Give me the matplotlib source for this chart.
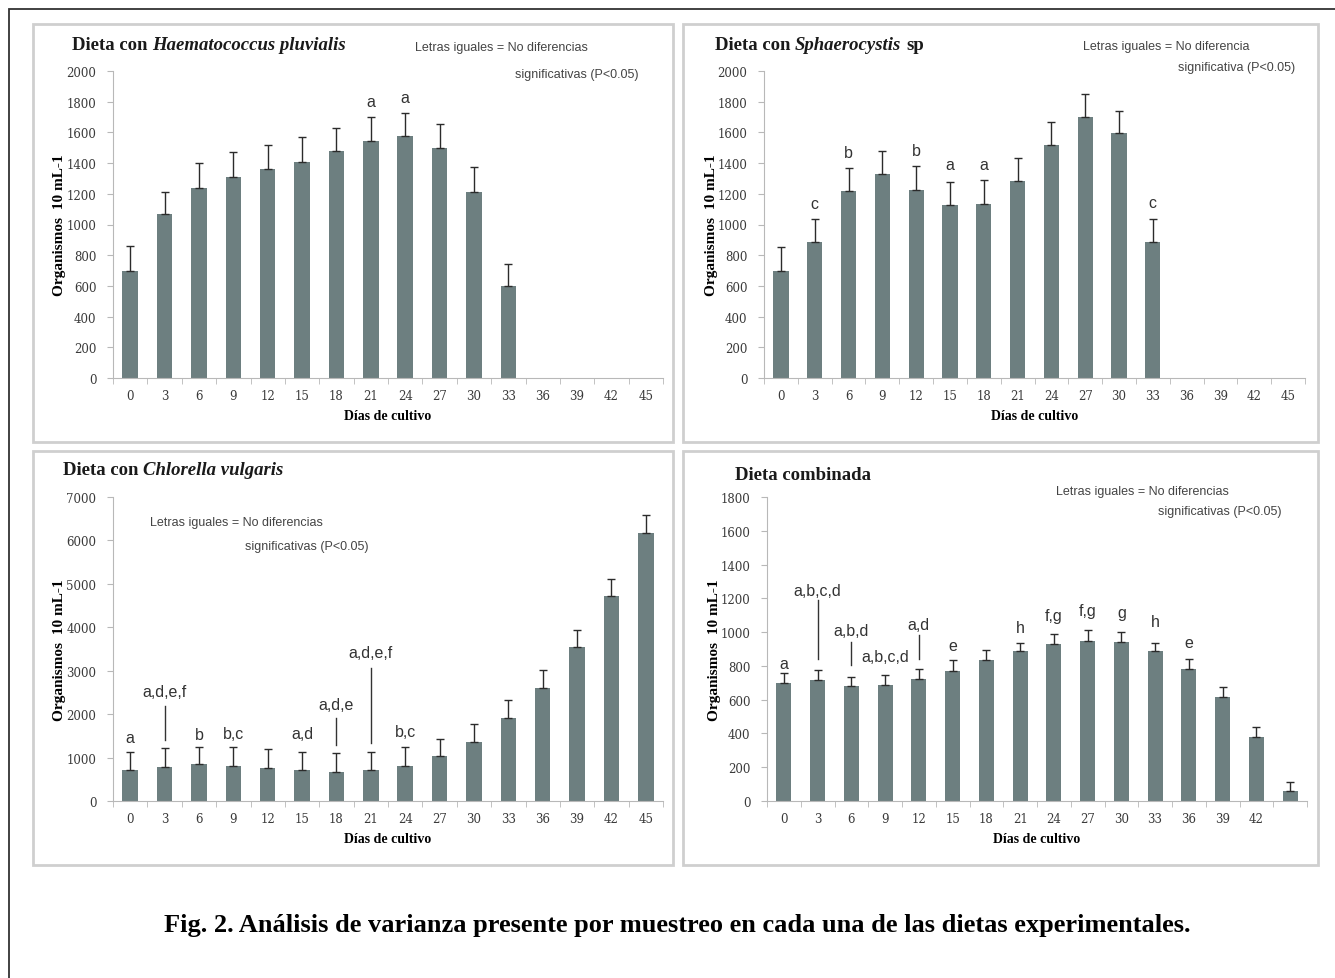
import numpy as np
import matplotlib.pyplot as plt
from matplotlib.patches import Rectangle
from matplotlib.text import Annotation

W, H = 1335, 979

dias = [0, 3, 6, 9, 12, 15, 18, 21, 24, 27, 30, 33, 36, 39, 42, 45]
dias_comb = ['0', '3', '6', '9', '12', '15', '18', '21', '24', '27', '30', '33', '36', '39', '42', '']

# medias por muestreo y limite superior de la barra de error
haema = [700, 1070, 1240, 1310, 1360, 1405, 1480, 1545, 1578, 1497, 1213, 600, 0, 0, 0, 0]
haema_sup = [857, 1213, 1399, 1475, 1515, 1567, 1628, 1700, 1727, 1655, 1373, 743, 0, 0, 0, 0]

sphae = [700, 883, 1217, 1327, 1228, 1128, 1134, 1285, 1519, 1703, 1593, 883, 0, 0, 0, 0]
sphae_sup = [852, 1036, 1366, 1480, 1381, 1277, 1287, 1430, 1670, 1851, 1742, 1036, 0, 0, 0, 0]

chlor = [715, 792, 846, 815, 769, 715, 677, 715, 815, 1038, 1369, 1908, 2600, 3538, 4715, 6162]
chlor_sup = [1123, 1215, 1254, 1238, 1192, 1123, 1100, 1123, 1238, 1431, 1769, 2315, 3023, 3946, 5123, 6577]

comb = [698, 714, 679, 688, 724, 770, 833, 891, 931, 948, 942, 891, 784, 617, 377, 60]
comb_sup = [760, 774, 734, 748, 784, 833, 893, 938, 986, 1010, 1000, 938, 843, 677, 440, 115]

# letras: (posicion, texto, altura del texto)
letras_haema = [(7, 'a', 1800), (8, 'a', 1825)]
letras_sphae = [(1, 'c', 1137), (2, 'b', 1469), (4, 'b', 1484), (5, 'a', 1388),
                (6, 'a', 1394), (11, 'c', 1141)]
letras_chlor = [(0, 'a', 1460), (1, 'a,d,e,f', 2520), (2, 'b', 1540), (3, 'b,c', 1560),
                (5, 'a,d', 1560), (6, 'a,d,e', 2215), (7, 'a,d,e,f', 3410), (8, 'b,c', 1600)]
lineas_chlor = [(1, 1410, 2180), (6, 1280, 1920), (7, 1330, 3060)]
letras_comb = [(0, 'a', 813), (1, 'a,b,c,d', 1244), (2, 'a,b,d', 1012), (3, 'a,b,c,d', 857),
               (4, 'a,d', 1048), (5, 'e', 922), (7, 'h', 1028), (8, 'f,g', 1101),
               (9, 'f,g', 1125), (10, 'g', 1117), (11, 'h', 1065), (12, 'e', 936)]
lineas_comb = [(1, 840, 1190), (2, 803, 942), (4, 839, 982)]

SERIF = 'Liberation Serif'
TICKS = 'DejaVu Serif'
SANS = 'Liberation Sans'
BARRA = '#6d7f80'


def caja(x0, y0, x1, y1):
    return [x0 / W, 1 - y1 / H, (x1 - x0) / W, (y1 - y0) / H]


def panel(fig, pos, medias, sup, etiquetas, ymax, paso, letras, lineas):
    ax = fig.add_axes(caja(*pos))
    x = np.arange(len(medias))
    med = np.array(medias, dtype=float)
    err = np.array(sup, dtype=float) - med
    ax.bar(x, med, width=0.45, color=BARRA, zorder=2)
    hay = med > 0
    ax.errorbar(x[hay], med[hay], yerr=[np.zeros(hay.sum()), err[hay]], fmt='none',
                ecolor='#2b2b2b', elinewidth=1, capsize=3, capthick=1, zorder=3)
    ax.set_xlim(-0.5, len(medias) - 0.5)
    ax.set_ylim(0, ymax)
    ax.set_yticks(np.arange(0, ymax + 1, paso))
    ax.set_xticks(x)
    ax.set_xticklabels(etiquetas)
    ax.set_xticks(np.arange(-0.5, len(medias)), minor=True)
    for s in ['top', 'right']:
        ax.spines[s].set_visible(False)
    for s in ['left', 'bottom']:
        ax.spines[s].set_color('#b8b8b8')
    ax.tick_params(axis='x', which='major', length=0, pad=8, labelsize=8.5, labelcolor='#3a3a3a')
    ax.tick_params(axis='x', which='minor', length=4, color='#b8b8b8', direction='out')
    ax.tick_params(axis='y', length=4, color='#b8b8b8', pad=8, labelsize=8.5, labelcolor='#3a3a3a')
    for lab in ax.get_xticklabels() + ax.get_yticklabels():
        lab.set_fontfamily(TICKS)
    ax.set_xlabel('Días de cultivo', fontfamily=SERIF, fontweight='bold', fontsize=10, labelpad=5)
    ax.set_ylabel('Organismos  10 mL-1', fontfamily=SERIF, fontweight='bold', fontsize=11)
    ax.yaxis.set_label_coords(-0.085, 0.5)
    for i, t, y in letras:
        ax.text(i, y, t, ha='center', va='center', fontfamily=SANS, fontsize=11.5, color='#333333')
    for i, y0, y1 in lineas:
        ax.plot([i, i], [y0, y1], color='#333333', lw=1, zorder=3)
    return ax


def titulo(fig, x, y, texto, especie=None, resto=None):
    estilo = dict(fontfamily=SERIF, fontweight='bold', fontsize=13.5, color='#1a1a1a')
    t = fig.text(x / W, 1 - y / H, texto, va='baseline', ha='left', **estilo)
    if especie:
        t2 = Annotation(especie, xy=(1, 0), xycoords=t, xytext=(3, 0), textcoords='offset points',
                        va='bottom', ha='left', fontstyle='italic', **estilo)
        fig.add_artist(t2)
        if resto:
            fig.add_artist(Annotation(resto, xy=(1, 0), xycoords=t2, xytext=(4, 0),
                                      textcoords='offset points', va='bottom', ha='left', **estilo))


def leyenda(fig, x1, y1, x2, y2, l1, l2):
    fig.text(x1 / W, 1 - y1 / H, l1, fontfamily=SANS, fontsize=9, color='#444444', va='center')
    fig.text(x2 / W, 1 - y2 / H, l2, fontfamily=SANS, fontsize=9, color='#444444', va='center')


fig = plt.figure(figsize=(W / 100, H / 100), dpi=100)

# marco exterior y recuadros de cada grafica
fig.patches.append(Rectangle((9 / W, -0.02), 1.05, 1 - 10 / H + 0.02, transform=fig.transFigure,
                             fill=False, edgecolor='#333333', lw=1.3))
for x0, y0, x1, y1 in [(33, 25, 673, 443), (683, 25, 1318, 443),
                       (33, 452, 673, 866), (683, 452, 1318, 866)]:
    fig.patches.append(Rectangle((x0 / W, 1 - y1 / H), (x1 - x0) / W, (y1 - y0) / H,
                                 transform=fig.transFigure, fill=False,
                                 edgecolor='#cfcfcf', lw=2))

etiq = [str(d) for d in dias]
panel(fig, (113, 72, 663, 379), haema, haema_sup, etiq, 2000, 200, letras_haema, [])
panel(fig, (764, 72, 1305, 379), sphae, sphae_sup, etiq, 2000, 200, letras_sphae, [])
panel(fig, (113, 498, 663, 802), chlor, chlor_sup, etiq, 7000, 1000, letras_chlor, lineas_chlor)
panel(fig, (767, 498, 1307, 802), comb, comb_sup, dias_comb, 1800, 200, letras_comb, lineas_comb)

titulo(fig, 72, 50, 'Dieta con', 'Haematococcus pluvialis')
titulo(fig, 715, 50, 'Dieta con', 'Sphaerocystis', 'sp')
titulo(fig, 63, 475, 'Dieta con', 'Chlorella vulgaris')
titulo(fig, 735, 480, 'Dieta combinada')

leyenda(fig, 415, 48, 515, 75, 'Letras iguales = No diferencias', 'significativas (P<0.05)')
leyenda(fig, 1083, 47, 1178, 68, 'Letras iguales = No diferencia', 'significativa (P<0.05)')
leyenda(fig, 150, 523, 245, 547, 'Letras iguales = No diferencias', 'significativas (P<0.05)')
leyenda(fig, 1056, 492, 1158, 512, 'Letras iguales = No diferencias', 'significativas (P<0.05)')

fig.text(0.5 * (160 + 1195) / W, 1 - 926 / H,
         'Fig. 2. Análisis de varianza presente por muestreo en cada una de las dietas experimentales.',
         fontfamily=SERIF, fontweight='bold', fontsize=19, ha='center', va='center')

fig.savefig('out.png', dpi=100)
